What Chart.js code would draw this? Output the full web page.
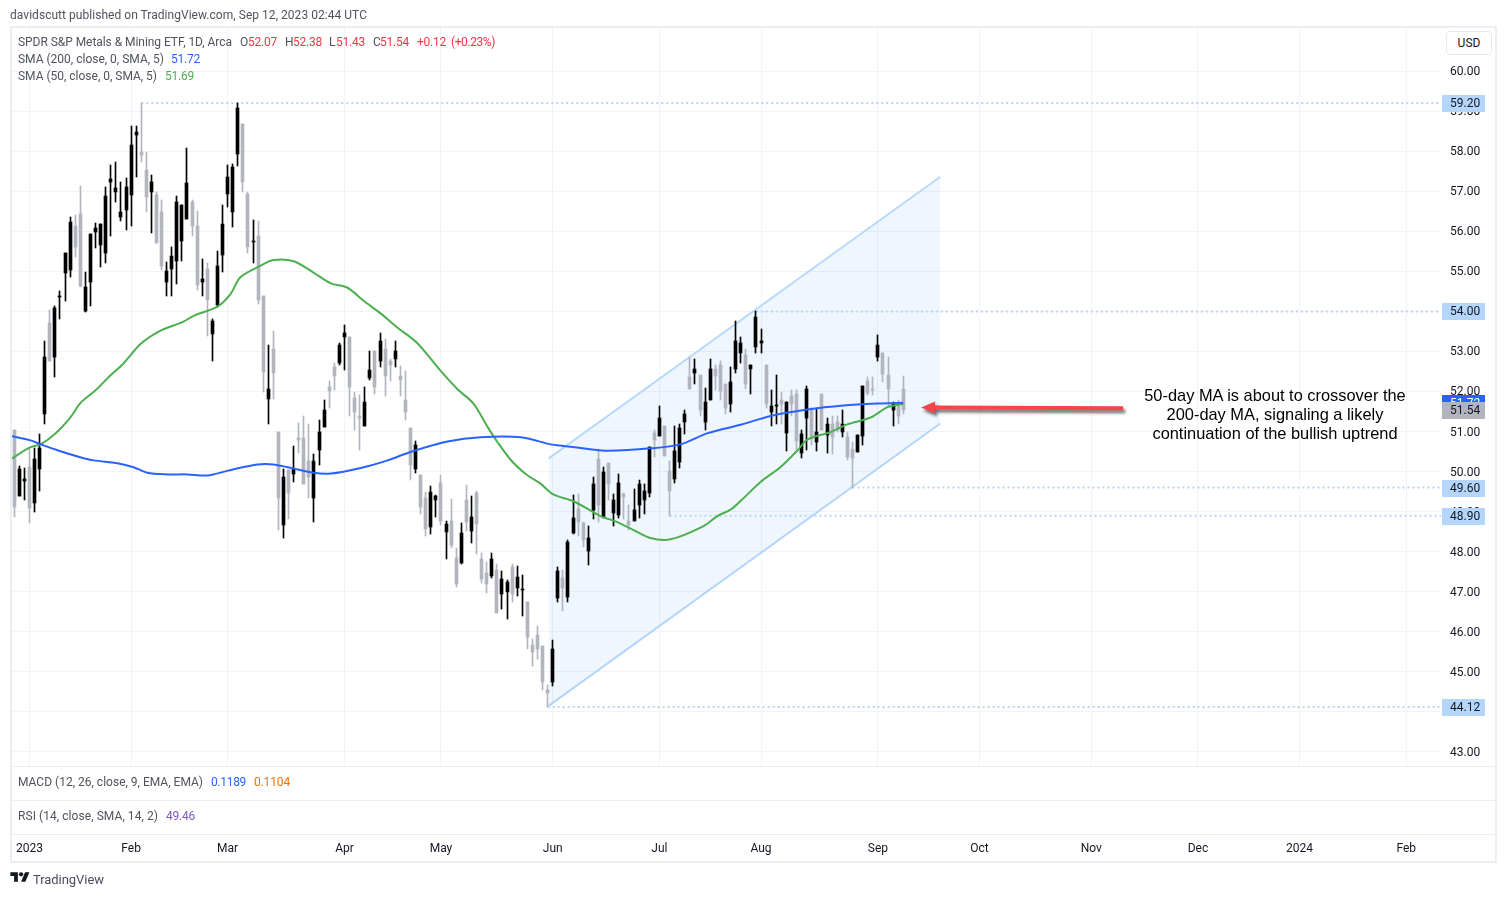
<!DOCTYPE html>
<html>
<head>
<meta charset="utf-8">
<title>SPDR S&amp;P Metals &amp; Mining ETF</title>
<script src="https://cdn.jsdelivr.net/npm/chart.js@4/dist/chart.umd.min.js"></script>
<style>
    html, body { margin: 0; background: #fff; }
    #wrap { position: relative; width: 1506px; height: 897px; overflow: hidden; }
    canvas { position: absolute; left: 0; top: 0; }
    .txt { position: absolute; white-space: nowrap; font: 12px Roboto, sans-serif; line-height: 16px; }
    .rule { position: absolute; background: #eceef4; }
</style>
</head>
<body>
<div id="wrap"><canvas id="chart" width="1506" height="897"></canvas></div>
<script>
// trading-day offset of the first bar, 0 is the first session of 2023
const firstBar = -3

const highs = [
    51.05,50.13,50.08,50.57,50.58,50.95,53.25,54.04,54.14,54.52,
    55.47,56.36,56.41,57.13,54.99,55.93,56.20,56.18,57.11,57.66,
    57.73,57.22,57.34,58.63,58.63,59.20,57.98,57.41,56.97,56.78,
    55.24,55.61,56.89,56.66,58.09,56.78,56.51,55.32,55.22,53.81,
    55.51,56.66,57.66,57.67,59.20,58.67,56.98,56.28,56.26,54.39,
    53.16,53.50,51.00,50.06,50.03,50.63,51.22,51.38,51.20,50.45,
    51.28,51.80,52.25,52.72,53.20,53.65,53.35,51.98,51.90,52.10,
    53.02,53.00,53.45,53.30,52.80,53.25,52.63,52.50,51.08,50.76,
    49.91,49.49,49.64,49.41,49.91,48.76,49.31,48.09,48.71,49.66,
    49.39,49.51,47.97,47.74,47.97,47.69,47.52,47.29,47.69,47.64,
    47.42,46.74,45.82,46.15,45.65,44.68,45.80,
    47.62,47.54,48.29,49.41,49.44,48.74,48.64,49.86,50.56,50.11,
    50.21,49.44,49.93,49.46,49.16,49.56,49.78,49.69,50.61,51.03,
    51.65,51.13,50.26,51.15,51.20,51.53,52.85,52.80,52.40,52.08,
    52.80,52.65,52.75,52.18,52.60,53.75,53.37,53.05,52.67,54.00,
    53.55,52.65,52.03,52.40,51.98,51.73,52.03,52.03,51.03,52.13,
    51.58,51.58,51.93,51.33,51.38,51.38,51.55,50.98,50.73,50.91,
    52.13,52.35,52.35,53.42,52.95,52.85,51.75,51.80,52.38
]
const lows = [
    48.87,49.39,49.29,48.71,48.99,49.51,51.18,52.75,52.35,53.80,
    54.27,54.87,55.37,54.60,53.98,54.13,55.57,55.12,55.22,55.89,
    56.72,56.26,56.04,56.14,57.36,57.73,56.47,55.95,55.70,55.04,
    54.38,54.38,54.68,55.27,56.31,55.89,54.54,54.39,53.38,52.77,
    54.12,54.98,56.61,56.10,57.63,56.99,55.47,55.22,54.19,51.98,
    51.20,51.81,48.54,48.33,48.82,49.73,50.46,49.68,49.33,48.75,
    50.16,51.11,51.60,52.03,52.65,52.53,51.40,51.03,50.53,51.15,
    52.28,51.93,52.60,51.88,52.25,52.60,51.88,51.28,49.78,49.96,
    48.94,48.39,48.44,48.86,48.66,47.82,48.09,47.12,47.69,48.51,
    48.21,47.94,47.22,46.97,47.34,46.47,46.57,46.32,46.74,46.89,
    46.40,45.57,45.15,45.32,44.55,44.12,44.65,
    46.74,46.52,46.74,48.44,48.39,48.11,47.67,48.81,48.74,48.84,
    49.29,48.64,48.84,48.81,48.54,48.76,48.84,48.94,49.36,50.36,
    50.90,50.38,48.90,49.71,50.08,50.93,52.05,52.18,51.38,51.05,
    51.78,52.03,51.78,51.43,51.50,52.47,52.72,52.05,51.93,52.97,
    52.95,51.58,51.13,51.18,51.18,50.51,51.40,50.53,50.33,50.53,
    50.66,50.51,51.05,50.46,50.43,51.00,50.86,50.28,49.60,50.48,
    50.66,51.90,51.90,52.77,52.23,51.61,51.13,51.20,51.43
]
const opens = [
    51.05,49.39,49.76,50.11,49.21,50.06,51.43,53.72,52.87,54.35,
    54.95,55.04,56.14,56.43,54.00,54.73,55.97,55.66,55.47,57.22,
    56.97,56.36,56.54,56.91,58.41,57.98,57.53,56.97,56.90,56.49,
    54.74,55.07,55.27,55.76,56.31,56.72,56.14,54.73,55.06,53.44,
    54.17,55.42,56.94,56.49,57.92,58.67,56.94,55.72,55.89,54.39,
    51.82,53.05,51.00,48.66,50.03,49.94,50.85,50.83,50.26,49.33,
    50.53,51.11,52.10,52.60,52.72,53.35,53.35,51.85,51.38,51.15,
    52.33,53.00,52.77,53.07,52.77,52.80,52.38,51.78,51.08,50.06,
    49.91,49.34,48.61,49.29,49.71,48.49,48.76,47.84,47.72,49.29,
    48.51,49.46,47.82,47.47,47.39,47.54,46.94,46.99,47.62,47.09,
    47.04,46.74,45.67,45.92,45.65,44.55,44.75,
    46.84,47.34,46.87,48.46,49.06,48.71,48.02,49.04,50.31,48.86,
    50.21,48.96,48.91,49.44,48.76,48.76,49.16,49.29,49.46,50.96,
    50.90,51.13,50.01,49.81,50.23,51.23,52.35,52.47,52.40,51.25,
    51.80,52.57,52.67,52.18,51.70,52.57,52.95,52.92,52.55,53.10,
    53.22,52.65,51.50,51.64,51.78,50.96,51.88,51.93,50.46,51.33,
    51.58,50.73,51.93,50.91,51.18,51.25,51.00,50.86,50.56,50.48,
    50.88,52.25,52.05,52.87,52.95,52.40,51.53,51.65,52.07
]
const closes = [
    49.11,50.06,49.81,49.09,50.31,50.58,52.85,52.75,54.09,54.39,
    55.47,56.22,55.61,54.64,54.60,55.93,56.08,56.18,56.89,57.30,
    57.08,56.47,57.11,58.16,58.48,57.91,56.86,57.23,55.70,55.14,
    55.02,55.39,56.74,56.66,57.21,56.14,54.67,54.81,54.29,53.77,
    55.14,56.18,57.36,57.61,59.07,57.22,55.60,55.75,54.29,52.48,
    52.07,52.46,49.34,49.86,49.47,50.06,50.78,49.68,49.87,50.26,
    50.98,51.53,52.00,52.38,53.15,53.47,52.10,51.50,51.33,51.75,
    52.53,52.10,53.25,52.38,52.67,53.02,52.28,51.48,50.16,50.66,
    49.11,48.56,49.49,49.39,48.76,48.69,48.17,47.19,48.46,48.74,
    48.86,48.69,47.32,47.19,47.82,46.47,47.32,47.24,46.94,47.37,
    47.07,45.87,45.50,45.57,44.75,44.48,45.57,
    47.52,47.09,48.24,48.84,48.74,48.29,48.34,49.69,49.16,49.98,
    49.69,49.29,49.71,49.36,48.66,49.04,49.69,49.51,50.61,50.78,
    51.33,50.38,49.51,50.51,51.10,51.45,52.05,52.57,51.53,51.75,
    52.57,52.38,52.00,51.60,52.23,53.27,53.20,52.18,52.65,53.87,
    53.27,51.70,51.63,51.66,51.70,51.73,51.68,50.76,50.93,52.05,
    50.81,50.98,51.05,51.18,50.86,51.05,51.18,50.36,50.33,50.91,
    52.13,51.95,52.03,53.15,52.43,52.05,51.68,51.38,51.54
]

const sma200X = [-3.7,0.2,2.2,6.1,10,12.6,17.3,20.5,23.2,27.2,31.1,34.3,36.2,40.2,44.9,48,50.8,55.9,59.3,65.2,70.5,75,82.3,88.8,96.7,102.6,105.1,110.4,113.8,122.2,128.1,133.5,140,145.9,153.1,160.2,166.9,172]
const sma200 = [50.89,50.78,50.68,50.51,50.36,50.28,50.21,50.11,49.97,49.93,49.93,49.90,49.93,50.06,50.18,50.18,50.11,49.97,49.95,50.09,50.28,50.49,50.75,50.86,50.86,50.68,50.64,50.56,50.52,50.58,50.68,50.96,51.17,51.39,51.55,51.65,51.70,51.72]
const sma50X = [-3.7,0.2,2.2,5.1,8.1,10,13,15.9,18.5,21.9,25.8,30.1,32.3,37,39.6,41.5,45.5,48,52,55.9,59.3,62.6,65.7,69.1,72.4,76.4,80.9,84.3,87.4,90.2,92.1,95.1,98,100.6,103.1,107.1,112.4,115.7,118.9,122.2,126.2,132.7,135.4,138,140,143.9,147.8,151.2,153.1,157.7,161,165.6,168.9,172]
const sma50 = [50.31,50.61,50.68,50.95,51.36,51.71,52.03,52.40,52.70,53.19,53.52,53.73,53.89,54.12,54.44,54.85,55.14,55.28,55.25,54.97,54.70,54.59,54.27,53.95,53.60,53.20,52.52,52.05,51.70,51.11,50.74,50.24,49.91,49.70,49.43,49.26,48.89,48.74,48.54,48.34,48.31,48.64,48.89,49.05,49.27,49.74,50.11,50.53,50.80,50.99,51.18,51.35,51.61,51.69]

// drawn parallel channel, ends in trading-day offsets
const channelX = [102.2, 179.3]
const channelTop = [50.33, 57.36]
const channelBottom = [44.15, 51.20]

// horizontal levels and the bar each one starts from
const levelValues = [59.20, 54.00, 49.60, 48.90, 44.12]
const levelStarts = [22, 143, 162, 126, 102]

const yTicks = [43,44,45,46,47,48,49,50,51,52,53,54,55,56,57,58,59,60]
const monthTicks = [0,20,39,62,81,103,124,144,167,187,209,230,250,271]
const monthLabels = ['2023','Feb','Mar','Apr','May','Jun','Jul','Aug','Sep','Oct','Nov','Dec','2024','Feb']

const arrowX = [215.3, 175.5]
const arrowY = [51.58, 51.60]

const xMin = -3.642, xMax = 277.85
const yMin = 42.65, yMax = 61.10
const black = '#000000', grey = '#b2b5be'
const levelBlue = '#b5d6fb'

const barIndex = highs.map((_, i) => i + firstBar)
const barColors = closes.map((c, i) => c >= opens[i] ? black : grey)

const levelSets = levelValues.map((v, i) => ({
    type: 'line',
    data: [{x: levelStarts[i], y: v}, {x: xMax, y: v}],
    borderColor: levelBlue,
    borderWidth: 2,
    borderDash: [2, 3],
    pointRadius: 0,
    order: 6
}))

// keep candles on whole pixels so the 1px wicks stay sharp
const snapCandles = {
    id: 'snapCandles',
    afterDatasetsUpdate(chart) {
        chart.data.datasets.forEach((ds, i) => {
            if (ds.type !== 'bar') return
            chart.getDatasetMeta(i).data.forEach(el => {
                el.x = Math.floor(el.x) + 0.5
                el.y = Math.round(el.y)
                el.base = Math.round(el.base)
                if (el.base === el.y) el.base = el.y + 1
            })
        })
    }
}

const drawArrow = {
    id: 'drawArrow',
    afterDatasetsDraw(chart) {
        const {ctx, scales: {x, y}} = chart
        const x0 = x.getPixelForValue(arrowX[0]), y0 = y.getPixelForValue(arrowY[0])
        const x1 = x.getPixelForValue(arrowX[1]), y1 = y.getPixelForValue(arrowY[1])
        ctx.save()
        ctx.shadowColor = 'rgba(0,0,0,0.55)'
        ctx.shadowBlur = 3
        ctx.shadowOffsetX = 2
        ctx.shadowOffsetY = 3
        ctx.fillStyle = '#f7454a'
        ctx.beginPath()
        ctx.moveTo(x1, y1)
        ctx.lineTo(x1 + 14, y1 - 6)
        ctx.lineTo(x1 + 14, y1 - 2)
        ctx.lineTo(x0, y0 - 2)
        ctx.lineTo(x0, y0 + 2)
        ctx.lineTo(x1 + 14, y1 + 2)
        ctx.lineTo(x1 + 14, y1 + 6)
        ctx.closePath()
        ctx.fill()
        ctx.restore()
    }
}

// value boxes sitting on the price axis
const priceTags = {
    id: 'priceTags',
    afterDraw(chart) {
        const {ctx, scales: {y}} = chart
        const tag = (value, bg, fg) => {
            const py = Math.round(y.getPixelForValue(value))
            ctx.fillStyle = bg
            ctx.fillRect(1442, py - 8, 43, 17)
            ctx.fillStyle = fg
            ctx.font = '12px Roboto, sans-serif'
            ctx.textBaseline = 'middle'
            ctx.textAlign = 'left'
            ctx.fillText(value.toFixed(2), 1450, py + 1)
        }
        levelValues.forEach(v => tag(v, levelBlue, '#131722'))
        tag(sma200[sma200.length - 1], '#2962ff', '#ffffff')
        tag(closes[closes.length - 1], grey, '#131722')
    }
}

new Chart(document.querySelector('#chart'), {
    type: 'bar',
    data: {
        datasets: [
            {
                type: 'line',
                data: channelX.map((v, i) => ({x: v, y: channelTop[i]})),
                borderColor: '#b9d9fb',
                borderWidth: 2,
                pointRadius: 0,
                fill: '+1',
                backgroundColor: 'rgba(41,130,245,0.07)',
                order: 7
            },
            {
                type: 'line',
                data: channelX.map((v, i) => ({x: v, y: channelBottom[i]})),
                borderColor: '#b9d9fb',
                borderWidth: 2,
                pointRadius: 0,
                order: 7
            },
            ...levelSets,
            {
                type: 'bar',
                data: barIndex.map((v, i) => ({x: v, y: [lows[i], highs[i]]})),
                backgroundColor: barColors,
                barThickness: 1,
                grouped: false,
                order: 5
            },
            {
                type: 'bar',
                data: barIndex.map((v, i) => ({x: v, y: [opens[i], closes[i]]})),
                backgroundColor: barColors,
                barThickness: 3,
                grouped: false,
                order: 4
            },
            {
                type: 'line',
                data: sma50X.map((v, i) => ({x: v, y: sma50[i]})),
                borderColor: '#4caf50',
                borderWidth: 2,
                pointRadius: 0,
                tension: 0.3,
                order: 2
            },
            {
                type: 'line',
                data: sma200X.map((v, i) => ({x: v, y: sma200[i]})),
                borderColor: '#2962ff',
                borderWidth: 2,
                pointRadius: 0,
                tension: 0.3,
                order: 1
            }
        ]
    },
    options: {
        responsive: false,
        animation: false,
        devicePixelRatio: 1,
        layout: {padding: {left: 11, top: 27, right: 0, bottom: 0}},
        plugins: {legend: {display: false}, tooltip: {enabled: false}},
        scales: {
            x: {
                type: 'linear',
                min: xMin,
                max: xMax,
                offset: false,
                grid: {color: '#f0f3fa', offset: false, drawTicks: false},
                border: {display: false},
                afterBuildTicks: s => { s.ticks = monthTicks.map(v => ({value: v})) },
                afterFit: s => { s.height = 131; s.paddingLeft = 0; s.paddingRight = 0 },
                ticks: {
                    autoSkip: false,
                    maxRotation: 0,
                    padding: 76,
                    color: '#131722',
                    font: {family: 'Roboto, sans-serif', size: 12},
                    callback: (v, i) => monthLabels[i]
                }
            },
            y: {
                type: 'linear',
                position: 'right',
                min: yMin,
                max: yMax,
                beginAtZero: false,
                grid: {color: '#f0f3fa', drawTicks: false},
                border: {display: false},
                afterBuildTicks: s => { s.ticks = yTicks.map(v => ({value: v})) },
                afterFit: s => { s.width = 65; s.paddingTop = 0; s.paddingBottom = 0 },
                ticks: {
                    padding: 9,
                    labelOffset: 1,
                    color: '#131722',
                    font: {family: 'Roboto, sans-serif', size: 12},
                    callback: v => v.toFixed(2)
                }
            }
        }
    },
    plugins: [snapCandles, drawArrow, priceTags]
})

// page furniture around the chart
const wrap = document.querySelector('#wrap')
const txt = (x, y, s, color, w, extra) => {
    const d = document.createElement('div')
    d.className = 'txt'
    d.textContent = s
    d.style.left = x + 'px'
    d.style.top = (y - 8) + 'px'
    d.style.color = color
    if (extra) Object.assign(d.style, extra)
    wrap.appendChild(d)
    if (w) d.style.letterSpacing = ((w - d.getBoundingClientRect().width) / s.length) + 'px'
    return d
}
const rule = (x, y, w, h) => {
    const d = document.createElement('div')
    d.className = 'rule'
    Object.assign(d.style, {left: x + 'px', top: y + 'px', width: w + 'px', height: h + 'px'})
    wrap.appendChild(d)
}
rule(10, 26, 1487, 2)
rule(10, 26, 2, 837)
rule(1495, 26, 2, 837)
rule(10, 861, 1487, 2)
rule(10, 766, 1487, 1)
rule(10, 800, 1487, 1)
rule(10, 834, 1487, 1)

const label = '#50535e', red = '#f23645'
txt(10, 15, 'davidscutt published on TradingView.com, Sep 12, 2023 02:44 UTC', label, 357)
txt(18, 42, 'SPDR S&P Metals & Mining ETF, 1D, Arca', label, 214)
txt(240, 42, 'O', label)
txt(248, 42, '52.07', red, 29)
txt(285, 42, 'H', label)
txt(293, 42, '52.38', red, 29)
txt(329, 42, 'L', label)
txt(336, 42, '51.43', red, 29)
txt(373, 42, 'C', label)
txt(380, 42, '51.54', red, 29)
txt(417, 42, '+0.12', red, 29)
txt(451, 42, '(+0.23%)', red, 44)
txt(18, 59, 'SMA (200, close, 0, SMA, 5)', label, 146)
txt(171, 59, '51.72', '#2962ff', 29)
txt(18, 76, 'SMA (50, close, 0, SMA, 5)', label, 139)
txt(165, 76, '51.69', '#4caf50', 29)
txt(18, 782, 'MACD (12, 26, close, 9, EMA, EMA)', label, 185)
txt(211, 782, '0.1189', '#2962ff', 35)
txt(254, 782, '0.1104', '#ff6d00', 36)
txt(18, 816, 'RSI (14, close, SMA, 14, 2)', label, 140)
txt(166, 816, '49.46', '#7e57c2', 29)

const usd = txt(1446, 43, 'USD', '#131722')
Object.assign(usd.style, {width: '44px', top: '31px', height: '22px', lineHeight: '23px', textAlign: 'center', border: '1px solid #e6e8ef', borderRadius: '4px', background: '#fff'})

const note = ['50-day MA is about to crossover the', '200-day MA, signaling a likely', 'continuation of the bullish uptrend']
note.forEach((line, i) => {
    txt(1075, 394.5 + i * 19, line, '#000000', null, {width: '400px', textAlign: 'center', font: '16.4px "Liberation Sans", Arial, sans-serif', lineHeight: '16px'})
})

const logo = document.createElement('div')
logo.innerHTML = '<svg width="20" height="15" viewBox="0 0 36 28"><path fill="#131722" d="M14 22H7V11H0V4h14v18zM28 22h-8l7.5-18h8L28 22z"/><circle fill="#131722" cx="20" cy="8" r="4"/></svg>'
Object.assign(logo.style, {position: 'absolute', left: '10px', top: '870px'})
wrap.appendChild(logo)
txt(33, 880, 'TradingView', '#4a4e5a', 71, {fontSize: '13px'})
</script>
</body>
</html>
